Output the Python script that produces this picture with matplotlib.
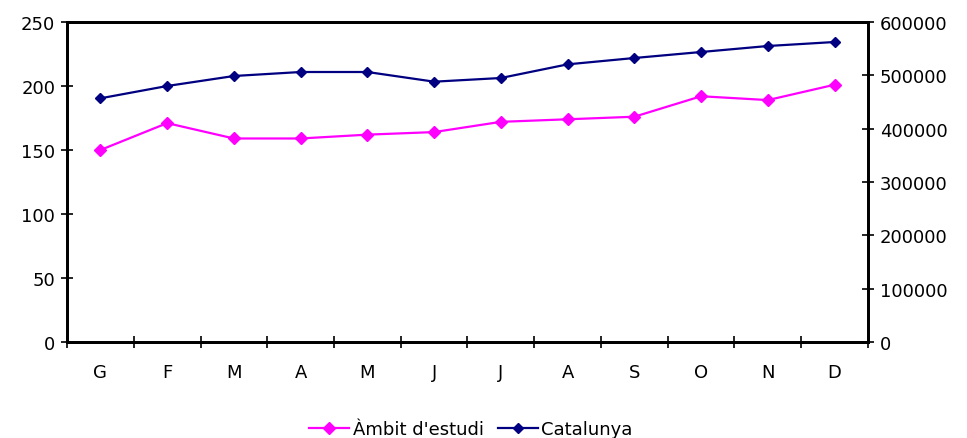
import numpy as np
import matplotlib.pyplot as plt

# === data ===
months = ["G", "F", "M", "A", "M", "J", "J", "A", "S", "O", "N", "D"]
ambit = [150, 171, 159, 159, 162, 164, 172, 174, 176, 192, 189, 201]
catalunya = [456900, 480000, 498750, 506250, 506250, 488100, 495000,
             520600, 532500, 543750, 555000, 562500]

pink = "#ff00ff"
navy = "#000080"

fig = plt.figure(figsize=(9.67, 4.39), dpi=100)
ax = fig.add_axes([0.0693, 0.2187, 0.8283, 0.7289])
ax2 = ax.twinx()

x = np.arange(len(months))
l1, = ax.plot(x, ambit, color=pink, lw=1.6, marker="D", ms=6, label="Àmbit d'estudi")
l2, = ax2.plot(x, catalunya, color=navy, lw=1.6, marker="D", ms=5.5, label="Catalunya")

ax.set_xlim(-0.5, len(months) - 0.5)
ax.set_ylim(0, 250)
ax2.set_ylim(0, 600000)
ax.set_yticks(range(0, 251, 50))
ax2.set_yticks(range(0, 600001, 100000))

# category boundaries as ticks, labels in between
ax.set_xticks(np.arange(-0.5, len(months), 1))
ax.set_xticklabels([])
ax.set_xticks(x, minor=True)
ax.set_xticklabels(months, minor=True)
ax.tick_params(axis="x", which="minor", length=0, pad=15, labelsize=13)
ax.tick_params(axis="x", which="major", direction="inout", length=8, width=1.2)
ax.tick_params(axis="y", direction="inout", length=9, width=1.2, labelsize=13, pad=4)
ax2.tick_params(axis="y", direction="inout", length=9, width=1.2, labelsize=13, pad=4)

for a in (ax, ax2):
    for s in a.spines.values():
        s.set_linewidth(2)
        s.set_color("black")

fig.legend([l1, l2], ["Àmbit d'estudi", "Catalunya"], loc="center",
           bbox_to_anchor=(0.487, 0.02), ncol=2, frameon=False, fontsize=13,
           handlelength=2.2, handletextpad=0.2, columnspacing=0.8)

fig.savefig("out.png", dpi=100)
